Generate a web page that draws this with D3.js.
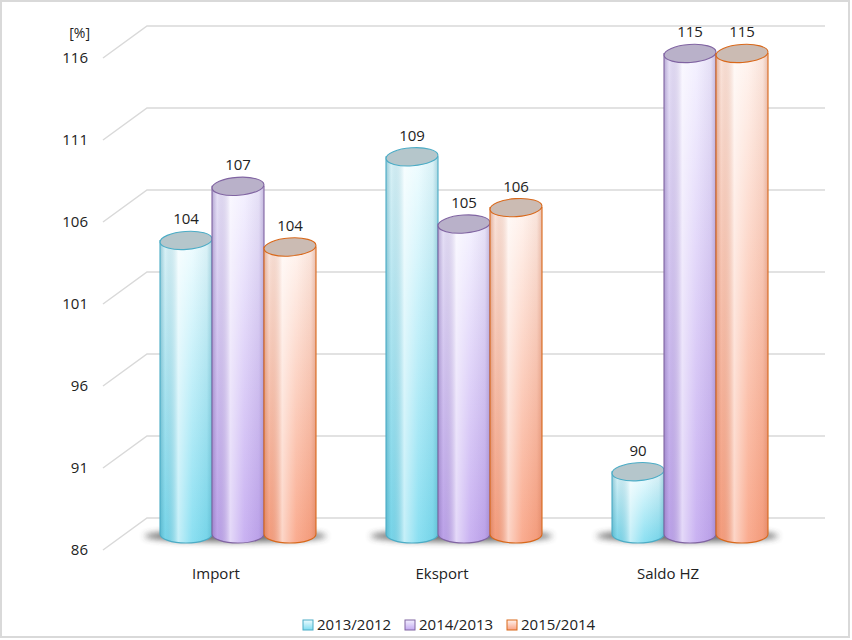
<!DOCTYPE html>
<html>
<head>
<meta charset="utf-8">
<script src="https://cdn.jsdelivr.net/npm/d3@7"></script>
<style>
  body { margin: 0; background: #fff; }
  text { font-family: "Open Sans", "Liberation Sans", sans-serif; fill: #222; }
</style>
</head>
<body>
<script>
// chart data
const categories = ['Import', 'Eksport', 'Saldo HZ'];
const series = ['2013/2012', '2014/2013', '2015/2014'];
const values2013 = [103.9, 109.0, 89.8];
const values2014 = [107.2, 104.9, 115.3];
const values2015 = [103.5, 105.9, 115.3];
const yTicks = [86, 91, 96, 101, 106, 111, 116];

const seriesValues = [values2013, values2014, values2015];
const palette = [
  { low: '#7edcf0', high: '#eefcff', edge: '#4bacc6', top: '#b5c6cb', dark: '#2f8ea6' },
  { low: '#c3a9f0', high: '#f3f0ff', edge: '#8064a2', top: '#b9b1c9', dark: '#6e55a0' },
  { low: '#f9a283', high: '#fff3ee', edge: '#d9681a', top: '#cbbbb3', dark: '#c0603a' }
];

const W = 852, H = 640;
const depthX = 44, depthY = -32;   // perspective offset of the back wall

const svg = d3.select('body').append('svg')
  .attr('width', W)
  .attr('height', H);

// front plane scales
const y = d3.scaleLinear().domain([86, 116]).range([550, 58]);
const x0 = d3.scaleBand().domain(categories).range([103, 781]);
const x1 = d3.scaleBand().domain(series).range([35, 191]);

const defs = svg.append('defs');

palette.forEach((p, i) => {
  const g = defs.append('linearGradient')
    .attr('id', 'body' + i)
    .attr('x1', 0).attr('y1', 1).attr('x2', 0).attr('y2', 0);
  g.append('stop').attr('offset', 0).attr('stop-color', p.low);
  g.append('stop').attr('offset', 1).attr('stop-color', p.high);

  // side shading tinted by the series colour
  const sh = defs.append('linearGradient')
    .attr('id', 'shade' + i)
    .attr('x1', 0).attr('y1', 0).attr('x2', 1).attr('y2', 0);
  [[0, p.dark, 0.45], [0.1, p.dark, 0.1], [0.35, '#fff', 0.55],
   [0.62, '#fff', 0.1], [0.9, p.dark, 0.1], [1, p.dark, 0.35]]
    .forEach(s => sh.append('stop')
      .attr('offset', s[0]).attr('stop-color', s[1]).attr('stop-opacity', s[2]));
});

defs.append('filter').attr('id', 'blur')
  .attr('x', '-20%').attr('y', '-100%').attr('width', '140%').attr('height', '300%')
  .append('feGaussianBlur').attr('stdDeviation', 3);

// outer frame
svg.append('rect')
  .attr('x', 1).attr('y', 1)
  .attr('width', W - 4).attr('height', H - 4)
  .attr('fill', 'none')
  .attr('stroke', '#d9d9d9')
  .attr('stroke-width', 2);

// perspective gridlines
const grid = svg.append('g');
grid.selectAll('path')
  .data(yTicks)
  .enter()
  .append('path')
  .attr('d', d => {
    const yf = y(d);
    return `M103,${yf} L${103 + depthX},${yf + depthY} L825,${yf + depthY}`;
  })
  .attr('fill', 'none')
  .attr('stroke', '#d9d9d9')
  .attr('stroke-width', 1.5);

// y tick labels
svg.selectAll('.ytick')
  .data(yTicks)
  .enter()
  .append('text')
  .attr('class', 'ytick')
  .attr('x', 88)
  .attr('y', d => y(d) + 5)
  .attr('text-anchor', 'end')
  .attr('font-size', 15)
  .text(d => d);

svg.append('text')
  .attr('x', 90).attr('y', 38)
  .attr('text-anchor', 'end')
  .attr('font-size', 14)
  .text('[%]');

// bars at mid depth
const midX = depthX / 2, midY = depthY / 2;
const w = x1.bandwidth();
const rx = w / 2, ry = 9;
const base = y(86) + midY;

const groups = svg.append('g').selectAll('g')
  .data(categories)
  .enter()
  .append('g')
  .attr('transform', c => `translate(${x0(c) + midX},0)`);

// floor shadow
groups.append('ellipse')
  .attr('cx', x1(series[0]) + w * 1.45)
  .attr('cy', base + 2)
  .attr('rx', w * 1.75)
  .attr('ry', 6)
  .attr('fill', '#3a3a3a')
  .attr('opacity', 0.75)
  .attr('filter', 'url(#blur)');

groups.each(function(c, ci) {
  const g = d3.select(this);
  series.forEach((s, si) => {
    const v = seriesValues[si][ci];
    const xl = x1(s);
    const yt = y(v) + midY;
    const p = palette[si];
    const bodyPath = `M${xl},${yt} L${xl},${base} A${rx},${ry} 0 0 0 ${xl + w},${base} L${xl + w},${yt} Z`;

    g.append('path')
      .attr('d', bodyPath)
      .attr('fill', `url(#body${si})`);
    g.append('path')
      .attr('d', bodyPath)
      .attr('fill', `url(#shade${si})`)
      .attr('stroke', p.edge)
      .attr('stroke-width', 1.1);
    g.append('ellipse')
      .attr('cx', xl + rx)
      .attr('cy', yt)
      .attr('rx', rx)
      .attr('ry', ry)
      .attr('transform', `rotate(-4,${xl + rx},${yt})`)
      .attr('fill', p.top)
      .attr('stroke', p.edge)
      .attr('stroke-width', 1.1);
    g.append('text')
      .attr('x', xl + rx)
      .attr('y', yt - 16)
      .attr('text-anchor', 'middle')
      .attr('font-size', 15)
      .text(Math.round(v));
  });
});

// category labels
svg.selectAll('.xlab')
  .data(categories)
  .enter()
  .append('text')
  .attr('class', 'xlab')
  .attr('x', c => x0(c) + x0.bandwidth() / 2)
  .attr('y', 579)
  .attr('text-anchor', 'middle')
  .attr('font-size', 15)
  .text(c => c);

// legend
const legend = svg.append('g').selectAll('g')
  .data(series)
  .enter()
  .append('g')
  .attr('transform', (s, i) => `translate(${303 + i * 102},620)`);
legend.append('rect')
  .attr('width', 10).attr('height', 10)
  .attr('fill', (s, i) => `url(#body${i})`)
  .attr('stroke', (s, i) => palette[i].edge);
legend.append('text')
  .attr('x', 14).attr('y', 10)
  .attr('font-size', 15)
  .text(s => s);
</script>
</body>
</html>
